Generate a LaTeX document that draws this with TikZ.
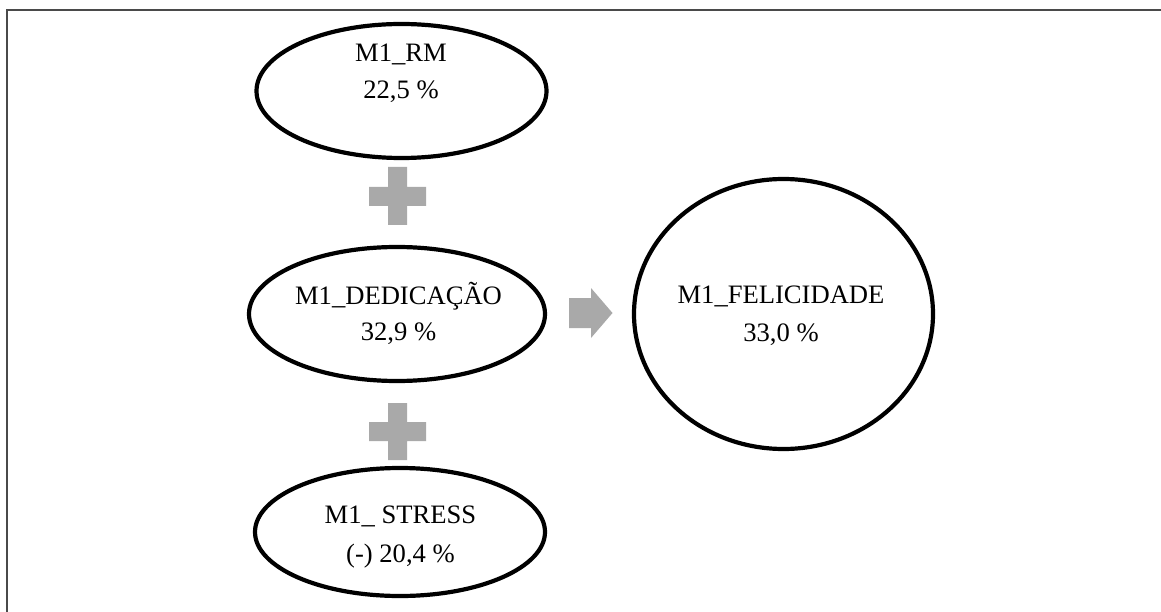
\documentclass[tikz,border=0pt]{standalone}
\usepackage{fontspec}
\setmainfont{Liberation Serif}
\usetikzlibrary{shapes.geometric}
\definecolor{framegray}{HTML}{4A4A4A}
\definecolor{signgray}{HTML}{A9A9A9}
\tikzset{
  varell/.style={ellipse, draw=black, line width=4.2pt, inner sep=0pt, outer sep=0pt},
  lbl/.style={anchor=base, inner sep=0pt, font=\fontsize{26.6}{32}\selectfont},
  sign/.style={fill=signgray, draw=none}
}
\begin{document}
\begin{tikzpicture}[x=1pt, y=-1pt]
\useasboundingbox (0,0) rectangle (1161,612);
\fill[white] (0,0) rectangle (1161,612);
% frame (only top and left visible)
\draw[framegray, line width=2pt] (6.5,612) -- (6.5,10.5) -- (1161,10.5);

% ellipses
\node[varell, minimum width=290pt, minimum height=134pt] (rm) at (401.5,91) {};
\node[varell, minimum width=296pt, minimum height=134pt] (ded) at (397,314) {};
\node[varell, minimum width=290pt, minimum height=128pt] (str) at (400,532) {};
\node[varell, minimum width=299pt, minimum height=270pt] (fel) at (783.5,314) {};

% texts
\node[lbl] (rmA) at (401,62) {M1\_RM};
\node[lbl] (rmB) at (401,99) {22,5 \%};
\node[lbl] (dedA) at (398.5,304) {M1\_DEDICAÇÃO};
\node[lbl] (dedB) at (398.5,340) {32,9 \%};
\node[lbl] (strA) at (400.5,523) {M1\_ STRESS};
\node[lbl] (strB) at (400.5,562) {(-) 20,4 \%};
\node[lbl] (felA) at (781,303) {M1\_FELICIDADE};
\node[lbl] (felB) at (781,341) {33,0 \%};

% plus signs
\fill[sign] (388,167) rectangle (407,225) (369,187) rectangle (426,206);
\fill[sign] (388,403) rectangle (407,460) (369,422) rectangle (426,441);

% arrow
\fill[sign] (569,298) -- (591,298) -- (591,288) -- (612.5,313) -- (591,338) -- (591,328) -- (569,328) -- cycle;
\end{tikzpicture}
\end{document}
